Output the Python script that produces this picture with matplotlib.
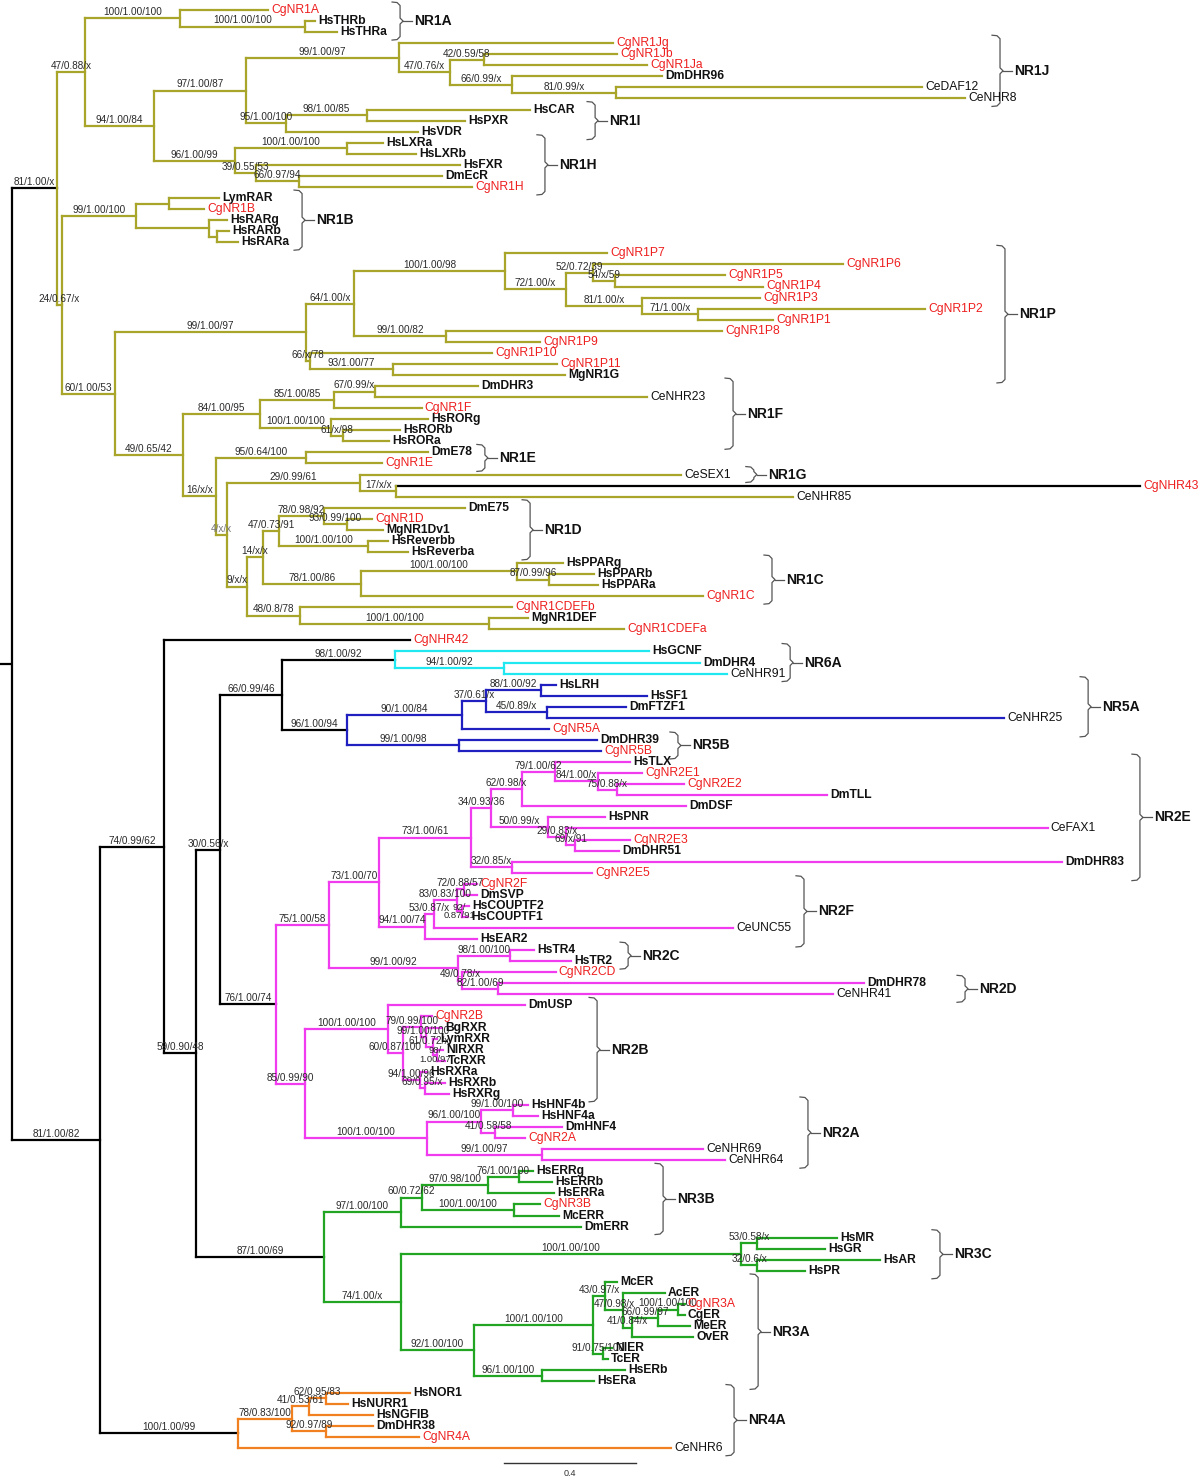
import matplotlib
matplotlib.use("Agg")
import matplotlib.pyplot as plt
from collections import defaultdict

plt.rcParams["font.family"] = ["Liberation Sans", "DejaVu Sans"]

# ---------------- DATA ----------------
# leaves in top-to-bottom order
leaf_order = [
    "CgNR1A", "HsTHRb", "HsTHRa", "CgNR1Jg", "CgNR1Jb", "CgNR1Ja", "DmDHR96", "CeDAF12", "CeNHR8",
    "HsCAR", "HsPXR", "HsVDR", "HsLXRa", "HsLXRb", "HsFXR", "DmEcR", "CgNR1H",
    "LymRAR", "CgNR1B", "HsRARg", "HsRARb", "HsRARa",
    "CgNR1P7", "CgNR1P6", "CgNR1P5", "CgNR1P4", "CgNR1P3", "CgNR1P2", "CgNR1P1", "CgNR1P8",
    "CgNR1P9", "CgNR1P10", "CgNR1P11", "MgNR1G",
    "DmDHR3", "CeNHR23", "CgNR1F", "HsRORg", "HsRORb", "HsRORa", "DmE78", "CgNR1E",
    "CeSEX1", "CgNHR43", "CeNHR85", "DmE75", "CgNR1D", "MgNR1Dv1", "HsReverbb", "HsReverba",
    "HsPPARg", "HsPPARb", "HsPPARa", "CgNR1C", "CgNR1CDEFb", "MgNR1DEF", "CgNR1CDEFa",
    "CgNHR42", "HsGCNF", "DmDHR4", "CeNHR91", "HsLRH", "HsSF1", "DmFTZF1", "CeNHR25",
    "CgNR5A", "DmDHR39", "CgNR5B",
    "HsTLX", "CgNR2E1", "CgNR2E2", "DmTLL", "DmDSF", "HsPNR", "CeFAX1", "CgNR2E3", "DmDHR51",
    "DmDHR83", "CgNR2E5", "CgNR2F", "DmSVP", "HsCOUPTF2", "HsCOUPTF1", "CeUNC55", "HsEAR2",
    "HsTR4", "HsTR2", "CgNR2CD", "DmDHR78", "CeNHR41",
    "DmUSP", "CgNR2B", "BgRXR", "LymRXR", "NlRXR", "TcRXR", "HsRXRa", "HsRXRb", "HsRXRg",
    "HsHNF4b", "HsHNF4a", "DmHNF4", "CgNR2A", "CeNHR69", "CeNHR64",
    "HsERRg", "HsERRb", "HsERRa", "CgNR3B", "McERR", "DmERR",
    "HsMR", "HsGR", "HsAR", "HsPR",
    "McER", "AcER", "CgNR3A", "CgER", "MeER", "OvER", "NlER", "TcER", "HsERb", "HsERa",
    "HsNOR1", "HsNURR1", "HsNGFIB", "DmDHR38", "CgNR4A", "CeNHR6",
]

# parent node of every leaf
leaf_parent = {
    "CgNR1A": "NR1A", "HsTHRb": "THR", "HsTHRa": "THR", "CgNR1Jg": "F", "CgNR1Jb": "H",
    "CgNR1Ja": "H", "DmDHR96": "I", "CeDAF12": "J", "CeNHR8": "J", "HsCAR": "L", "HsPXR": "L",
    "HsVDR": "K", "HsLXRa": "N", "HsLXRb": "N", "HsFXR": "O", "DmEcR": "P", "CgNR1H": "P",
    "LymRAR": "Q", "CgNR1B": "Q", "HsRARg": "Rr", "HsRARb": "S", "HsRARa": "S",
    "CgNR1P7": "W", "CgNR1P6": "Y", "CgNR1P5": "Z", "CgNR1P4": "Z", "CgNR1P3": "AA",
    "CgNR1P2": "AB", "CgNR1P1": "AB", "CgNR1P8": "AC", "CgNR1P9": "AC", "CgNR1P10": "AD",
    "CgNR1P11": "AE", "MgNR1G": "AE", "DmDHR3": "AJ", "CeNHR23": "AJ", "CgNR1F": "AI",
    "HsRORg": "AK", "HsRORb": "AL", "HsRORa": "AL", "DmE78": "NR1E", "CgNR1E": "NR1E",
    "CeSEX1": "AN", "CgNHR43": "AP", "CeNHR85": "AP", "DmE75": "AT", "CgNR1D": "AU",
    "MgNR1Dv1": "AU", "HsReverbb": "AV", "HsReverba": "AV", "HsPPARg": "AX", "HsPPARb": "AY",
    "HsPPARa": "AY", "CgNR1C": "AW", "CgNR1CDEFb": "AR", "MgNR1DEF": "AZ", "CgNR1CDEFa": "AZ",
    "CgNHR42": "BB", "HsGCNF": "BG", "DmDHR4": "BH", "CeNHR91": "BH", "HsLRH": "BL",
    "HsSF1": "BL", "DmFTZF1": "BM", "CeNHR25": "BM", "CgNR5A": "BJ", "DmDHR39": "BN",
    "CgNR5B": "BN", "HsTLX": "BU", "CgNR2E1": "BV", "CgNR2E2": "BW", "DmTLL": "BW",
    "DmDSF": "BT", "HsPNR": "BZ", "CeFAX1": "BY", "CgNR2E3": "CI", "DmDHR51": "CI",
    "DmDHR83": "CA", "CgNR2E5": "CA", "CgNR2F": "CE", "DmSVP": "CE", "HsCOUPTF2": "CF",
    "HsCOUPTF1": "CF", "CeUNC55": "CC", "HsEAR2": "CB", "HsTR4": "CH", "HsTR2": "CH",
    "CgNR2CD": "CJ", "DmDHR78": "CK", "CeNHR41": "CK", "DmUSP": "CL", "CgNR2B": "CO",
    "BgRXR": "CQ", "LymRXR": "CR", "NlRXR": "CS", "TcRXR": "CS", "HsRXRa": "CP",
    "HsRXRb": "CT", "HsRXRg": "CT", "HsHNF4b": "CW", "HsHNF4a": "CW", "DmHNF4": "CX",
    "CgNR2A": "CX", "CeNHR69": "CV", "CeNHR64": "CV", "HsERRg": "DE", "HsERRb": "DE",
    "HsERRa": "DC", "CgNR3B": "DD", "McERR": "DD", "DmERR": "CZ", "HsMR": "DH", "HsGR": "DH",
    "HsAR": "DI", "HsPR": "DI", "McER": "DL", "AcER": "DN", "CgNR3A": "DR", "CgER": "DR",
    "MeER": "DQ", "OvER": "DP", "NlER": "DM", "TcER": "DM", "HsERb": "DK", "HsERa": "DK",
    "HsNOR1": "DW", "HsNURR1": "DW", "HsNGFIB": "DU", "DmDHR38": "DV", "CgNR4A": "DV",
    "CeNHR6": "DS",
}

# distance of each leaf from the root (substitutions / site)
leaf_depth = {
    "CgNR1A": 0.776, "HsTHRb": 0.918, "HsTHRa": 0.985, "CgNR1Jg": 1.821, "CgNR1Jb": 1.833,
    "CgNR1Ja": 1.924, "DmDHR96": 1.970, "CeDAF12": 2.758, "CeNHR8": 2.888, "HsCAR": 1.570,
    "HsPXR": 1.373, "HsVDR": 1.230, "HsLXRa": 1.124, "HsLXRb": 1.224, "HsFXR": 1.358,
    "DmEcR": 1.303, "CgNR1H": 1.394, "LymRAR": 0.627, "CgNR1B": 0.582, "HsRARg": 0.652,
    "HsRARb": 0.658, "HsRARa": 0.685, "CgNR1P7": 1.803, "CgNR1P6": 2.518, "CgNR1P5": 2.161,
    "CgNR1P4": 2.276, "CgNR1P3": 2.267, "CgNR1P2": 2.767, "CgNR1P1": 2.306, "CgNR1P8": 2.152,
    "CgNR1P9": 1.600, "CgNR1P10": 1.455, "CgNR1P11": 1.652, "MgNR1G": 1.676, "DmDHR3": 1.412,
    "CeNHR23": 1.924, "CgNR1F": 1.242, "HsRORg": 1.261, "HsRORb": 1.176, "HsRORa": 1.142,
    "DmE78": 1.261, "CgNR1E": 1.121, "CeSEX1": 2.027, "CgNHR43": 3.418, "CeNHR85": 2.367,
    "DmE75": 1.373, "CgNR1D": 1.091, "MgNR1Dv1": 1.124, "HsReverbb": 1.139, "HsReverba": 1.200,
    "HsPPARg": 1.670, "HsPPARb": 1.764, "HsPPARa": 1.776, "CgNR1C": 2.094, "CgNR1CDEFb": 1.515,
    "MgNR1DEF": 1.564, "CgNR1CDEFa": 1.855, "CgNHR42": 1.206, "HsGCNF": 1.930, "DmDHR4": 2.085,
    "CeNHR91": 2.167, "HsLRH": 1.648, "HsSF1": 1.924, "DmFTZF1": 1.861, "CeNHR25": 3.006,
    "CgNR5A": 1.627, "DmDHR39": 1.773, "CgNR5B": 1.785, "HsTLX": 1.873, "CgNR2E1": 1.909,
    "CgNR2E2": 2.036, "DmTLL": 2.470, "DmDSF": 2.042, "HsPNR": 1.797, "CeFAX1": 3.139,
    "CgNR2E3": 1.873, "DmDHR51": 1.839, "DmDHR83": 3.182, "CgNR2E5": 1.758, "CgNR2F": 1.409,
    "DmSVP": 1.409, "HsCOUPTF2": 1.385, "HsCOUPTF1": 1.382, "CeUNC55": 2.185, "HsEAR2": 1.409,
    "HsTR4": 1.582, "HsTR2": 1.694, "CgNR2CD": 1.648, "DmDHR78": 2.582, "CeNHR41": 2.488,
    "DmUSP": 1.555, "CgNR2B": 1.273, "BgRXR": 1.303, "LymRXR": 1.288, "NlRXR": 1.306,
    "TcRXR": 1.312, "HsRXRa": 1.258, "HsRXRb": 1.312, "HsRXRg": 1.324, "HsHNF4b": 1.564,
    "HsHNF4a": 1.594, "DmHNF4": 1.667, "CgNR2A": 1.555, "CeNHR69": 2.094, "CeNHR64": 2.161,
    "HsERRg": 1.579, "HsERRb": 1.636, "HsERRa": 1.642, "CgNR3B": 1.600, "McERR": 1.658,
    "DmERR": 1.724, "HsMR": 2.500, "HsGR": 2.464, "HsAR": 2.630, "HsPR": 2.403, "McER": 1.833,
    "AcER": 1.979, "CgNR3A": 2.039, "CgER": 2.039, "MeER": 2.055, "OvER": 2.064, "NlER": 1.818,
    "TcER": 1.806, "HsERb": 1.858, "HsERa": 1.764, "HsNOR1": 1.206, "HsNURR1": 1.018,
    "HsNGFIB": 1.094, "DmDHR38": 1.094, "CgNR4A": 1.233, "CeNHR6": 1.997,
}

# oyster (Crassostrea gigas) genes from this study, labelled in red
red_leaves = [
    "CgNR1A", "CgNR1Jg", "CgNR1Jb", "CgNR1Ja", "CgNR1H", "CgNR1B", "CgNR1P7", "CgNR1P6",
    "CgNR1P5", "CgNR1P4", "CgNR1P3", "CgNR1P2", "CgNR1P1", "CgNR1P8", "CgNR1P9", "CgNR1P10",
    "CgNR1P11", "CgNR1F", "CgNR1E", "CgNHR43", "CgNR1D", "CgNR1C", "CgNR1CDEFb", "CgNR1CDEFa",
    "CgNHR42", "CgNR5A", "CgNR5B", "CgNR2E1", "CgNR2E2", "CgNR2E3", "CgNR2E5", "CgNR2F",
    "CgNR2CD", "CgNR2B", "CgNR2A", "CgNR3B", "CgNR3A", "CgNR4A",
]

# internal nodes: parent, depth from root, support (ML bootstrap / posterior / NJ)
node_parent = {
    "A": "R", "B": "A", "NR1A": "B", "THR": "NR1A", "D": "B", "E": "D", "F": "E", "G": "F",
    "H": "G", "I": "G", "J": "I", "K": "E", "L": "K", "M": "D", "N": "M", "O": "M", "P": "O",
    "C": "A", "NR1B": "C", "Q": "NR1B", "Rr": "NR1B", "S": "Rr",
    "T": "C", "U": "T", "V": "U", "W": "V", "X": "W", "Y": "X", "Z": "Y", "AA": "X", "AB": "AA",
    "AC": "V", "AD": "U", "AE": "AD",
    "AF": "T", "AG": "AF", "AI": "AG", "AJ": "AI", "AK": "AG", "AL": "AK", "AH": "AF",
    "NR1E": "AH", "AM": "AH", "AN": "AM", "AP": "AN", "AO": "AM", "AQ": "AO", "AS": "AQ",
    "AT": "AS", "AU": "AT", "AV": "AS", "AW": "AQ", "AX": "AW", "AY": "AX", "AR": "AO", "AZ": "AR",
    "BA": "R", "BB": "BA", "BD": "BB", "BC": "BD", "BE": "BC", "BG": "BE", "BH": "BG",
    "BI": "BE", "BJ": "BI", "BK": "BJ", "BL": "BK", "BM": "BK", "BN": "BI",
    "BF": "BC", "BP": "BF", "BQ": "BP", "BR": "BQ", "BS": "BR", "BT": "BS", "BU": "BT",
    "BV": "BU", "BW": "BV", "BZ": "BS", "BY": "BZ", "CI": "BY", "CA": "BR",
    "CB": "BQ", "CC": "CB", "CD": "CC", "CE": "CD", "CF": "CD", "CG": "BP", "CH": "CG",
    "CJ": "CG", "CK": "CJ",
    "BO": "BF", "CL": "BO", "CN": "CL", "CO": "CN", "CQ": "CO", "CR": "CQ", "CS": "CR",
    "CP": "CN", "CT": "CP", "CM": "BO", "CU": "CM", "CW": "CU", "CX": "CU", "CV": "CM",
    "CY": "BD", "CZ": "CY", "DB": "CZ", "DC": "DB", "DE": "DC", "DD": "DB", "DA": "CY",
    "DF": "DA", "DH": "DF", "DI": "DF", "DG": "DA", "DJ": "DG", "DL": "DJ", "DN": "DL",
    "DP": "DN", "DQ": "DP", "DR": "DQ", "DM": "DJ", "DK": "DG",
    "DS": "BA", "DT": "DS", "DU": "DT", "DW": "DU", "DV": "DT",
}

node_depth = {
    "R": 0.0, "A": 0.136, "B": 0.221, "NR1A": 0.509, "THR": 0.888, "D": 0.430, "E": 0.709,
    "F": 1.173, "G": 1.327, "H": 1.430, "I": 1.515, "J": 1.830, "K": 0.830, "L": 1.076,
    "M": 0.676, "N": 1.015, "O": 0.739, "P": 0.870, "C": 0.152, "NR1B": 0.376, "Q": 0.476,
    "Rr": 0.597, "S": 0.621, "T": 0.312, "U": 0.891, "V": 1.036, "W": 1.494, "X": 1.679,
    "Y": 1.761, "Z": 1.827, "AA": 1.909, "AB": 2.079, "AC": 1.315, "AD": 0.903, "AE": 1.155,
    "AF": 0.518, "AG": 0.752, "AI": 0.976, "AJ": 1.100, "AK": 0.967, "AL": 1.003, "AH": 0.618,
    "NR1E": 0.891, "AM": 0.652, "AN": 1.055, "AP": 1.164, "AO": 0.712, "AQ": 0.761,
    "AS": 0.809, "AT": 0.945, "AU": 1.015, "AV": 1.079, "AW": 1.058, "AX": 1.530, "AY": 1.627,
    "AR": 0.873, "AZ": 1.445,
    "BA": 0.267, "BB": 0.461, "BD": 0.558, "BC": 0.630, "BE": 0.818, "BG": 1.161, "BH": 1.491,
    "BI": 1.015, "BJ": 1.364, "BK": 1.436, "BL": 1.603, "BM": 1.621, "BN": 1.355,
    "BF": 0.800, "BP": 0.961, "BQ": 1.112, "BR": 1.391, "BS": 1.452, "BT": 1.545, "BU": 1.645,
    "BV": 1.776, "BW": 1.833, "BZ": 1.624, "BY": 1.679, "CI": 1.706, "CA": 1.515,
    "CB": 1.252, "CC": 1.279, "CD": 1.348, "CE": 1.370, "CF": 1.364, "CG": 1.352, "CH": 1.509,
    "CJ": 1.364, "CK": 1.473,
    "BO": 0.888, "CL": 1.139, "CN": 1.185, "CO": 1.239, "CQ": 1.255, "CR": 1.276, "CS": 1.288,
    "CP": 1.236, "CT": 1.252, "CM": 1.258, "CU": 1.421, "CW": 1.518, "CX": 1.464, "CV": 1.606,
    "CY": 0.945, "CZ": 1.179, "DB": 1.242, "DC": 1.442, "DE": 1.536, "DD": 1.521, "DA": 1.179,
    "DF": 2.209, "DH": 2.258, "DI": 2.258, "DG": 1.400, "DJ": 1.761, "DL": 1.797, "DN": 1.852,
    "DP": 1.879, "DQ": 1.958, "DR": 2.018, "DM": 1.791, "DK": 1.606,
    "DS": 0.685, "DT": 0.848, "DU": 0.900, "DW": 0.952, "DV": 0.952,
}

node_support = {
    "A": "81/1.00/x", "B": "47/0.88/x", "NR1A": "100/1.00/100", "THR": "100/1.00/100",
    "D": "94/1.00/84", "E": "97/1.00/87", "F": "99/1.00/97", "G": "47/0.76/x",
    "H": "42/0.59/58", "I": "66/0.99/x", "J": "81/0.99/x", "K": "95/1.00/100",
    "L": "98/1.00/85", "M": "96/1.00/99", "N": "100/1.00/100", "O": "39/0.55/53",
    "P": "66/0.97/94", "C": "24/0.67/x", "NR1B": "99/1.00/100", "T": "60/1.00/53",
    "U": "99/1.00/97", "V": "64/1.00/x", "W": "100/1.00/98", "X": "72/1.00/x",
    "Y": "52/0.72/39", "Z": "54/x/59", "AA": "81/1.00/x", "AB": "71/1.00/x",
    "AC": "99/1.00/82", "AD": "66/x/78", "AE": "93/1.00/77", "AF": "49/0.65/42",
    "AG": "84/1.00/95", "AI": "85/1.00/85", "AJ": "67/0.99/x", "AK": "100/1.00/100",
    "AL": "61/x/98", "AH": "16/x/x", "NR1E": "95/0.64/100", "AM": "4/x/x",
    "AN": "29/0.99/61", "AP": "17/x/x", "AO": "9/x/x", "AQ": "14/x/x", "AS": "47/0.73/91",
    "AT": "78/0.98/92", "AU": "93/0.99/100", "AV": "100/1.00/100", "AW": "78/1.00/86",
    "AX": "100/1.00/100", "AY": "87/0.99/96", "AR": "48/0.8/78", "AZ": "100/1.00/100",
    "BA": "81/1.00/82", "BB": "74/0.99/62", "BD": "59/0.90/48", "BC": "30/0.56/x",
    "BE": "66/0.99/46", "BG": "98/1.00/92", "BH": "94/1.00/92", "BI": "96/1.00/94",
    "BJ": "90/1.00/84", "BK": "37/0.61/x", "BL": "88/1.00/92", "BM": "45/0.89/x",
    "BN": "99/1.00/98", "BF": "76/1.00/74", "BP": "75/1.00/58", "BQ": "73/1.00/70",
    "BR": "73/1.00/61", "BS": "34/0.93/36", "BT": "62/0.98/x", "BU": "79/1.00/62",
    "BV": "84/1.00/x", "BW": "75/0.88/x", "BZ": "50/0.99/x", "BY": "29/0.83/x",
    "CI": "69/x/91", "CA": "32/0.85/x", "CB": "94/1.00/74", "CC": "53/0.87/x",
    "CD": "83/0.83/100", "CE": "72/0.88/57", "CF": "92/\n0.87/91", "CG": "99/1.00/92",
    "CH": "98/1.00/100", "CJ": "49/0.78/x", "CK": "82/1.00/69", "BO": "85/0.99/90",
    "CL": "100/1.00/100", "CN": "60/0.87/100", "CO": "79/0.99/100", "CQ": "99/1.00/100",
    "CR": "61/0.72/x", "CS": "98/\n1.00/97", "CP": "94/1.00/96", "CT": "69/0.95/x",
    "CM": "100/1.00/100", "CU": "96/1.00/100", "CW": "99/1.00/100", "CX": "41/0.58/58",
    "CV": "99/1.00/97", "CY": "87/1.00/69", "CZ": "97/1.00/100", "DB": "60/0.72/62",
    "DC": "97/0.98/100", "DE": "76/1.00/100", "DD": "100/1.00/100", "DA": "74/1.00/x",
    "DF": "100/1.00/100", "DH": "53/0.58/x", "DI": "32/0.6/x", "DG": "92/1.00/100",
    "DJ": "100/1.00/100", "DL": "43/0.97/x", "DN": "47/0.98/x", "DP": "41/0.84/x",
    "DQ": "66/0.99/97", "DR": "100/1.00/100", "DM": "91/0.75/100", "DK": "96/1.00/100",
    "DS": "100/1.00/99", "DT": "78/0.83/100", "DU": "41/0.53/61", "DW": "62/0.95/83",
    "DV": "92/0.97/89",
}

# subfamily brackets: name, first leaf, last leaf
clade_names = ["NR1A", "NR1J", "NR1I", "NR1H", "NR1B", "NR1P", "NR1F", "NR1E", "NR1G", "NR1D",
               "NR1C", "NR6A", "NR5A", "NR5B", "NR2E", "NR2F", "NR2C", "NR2D", "NR2B", "NR2A",
               "NR3B", "NR3C", "NR3A", "NR4A"]
clade_first = ["CgNR1A", "CgNR1Jg", "HsCAR", "HsLXRa", "LymRAR", "CgNR1P7", "DmDHR3", "DmE78",
               "CeSEX1", "DmE75", "HsPPARg", "HsGCNF", "HsLRH", "DmDHR39", "HsTLX", "CgNR2F",
               "HsTR4", "DmDHR78", "DmUSP", "HsHNF4b", "HsERRg", "HsMR", "McER", "HsNOR1"]
clade_last = ["HsTHRa", "CeNHR8", "HsVDR", "CgNR1H", "HsRARa", "MgNR1G", "HsRORa", "CgNR1E",
              "CeSEX1", "HsReverba", "CgNR1C", "CeNHR91", "CgNR5A", "CgNR5B", "CgNR2E5", "HsEAR2",
              "HsTR2", "CeNHR41", "HsRXRg", "CeNHR64", "DmERR", "HsPR", "HsERa", "CeNHR6"]

scale_bar_value = 0.4

# ---------------- STYLE / LAYOUT ----------------
OLIVE = "#a8a52a"
CYAN = "#1fe8f0"
BLUE = "#2020c0"
MAGENTA = "#f03cee"
GREEN = "#22a522"
ORANGE = "#f08020"
RED = "#ee1f1f"
clade_colour = {"A": OLIVE, "BG": CYAN, "BI": BLUE, "BF": MAGENTA, "CY": GREEN, "DS": ORANGE}
branch_colour_override = {"CgNHR43": "black"}
faint_support = ["AM"]

# x position of each bracket (same units as the tree axis)
bracket_x = {"NR1A": 1.176, "NR1J": 2.994, "NR1I": 1.767, "NR1H": 1.615, "NR1B": 0.879,
             "NR1P": 3.009, "NR1F": 2.185, "NR1E": 1.433, "NR1G": 2.248, "NR1D": 1.570,
             "NR1C": 2.303, "NR6A": 2.358, "NR5A": 3.261, "NR5B": 2.018, "NR2E": 3.418,
             "NR2F": 2.400, "NR2C": 1.867, "NR2D": 2.888, "NR2B": 1.773, "NR2A": 2.412,
             "NR3B": 1.973, "NR3C": 2.812, "NR3A": 2.261, "NR4A": 2.188}

W, H = 1200, 1477
PX = 1.0 / 330.0      # tree units per pixel
ROW = 11.06           # pixels per leaf row
fig = plt.figure(figsize=(W / 100, H / 100), dpi=100)
ax = fig.add_axes([0, 0, 1, 1])
ax.set_xlim(-12 * PX, (W - 12) * PX)
ax.set_ylim((H - 10) / ROW, -10 / ROW)
ax.axis("off")

# ---------------- TREE GEOMETRY ----------------
parent = dict(node_parent)
parent.update(leaf_parent)
depth = dict(node_depth)
depth.update(leaf_depth)
children = defaultdict(list)
for k, p in parent.items():
    children[p].append(k)
leaf_row = {n: i for i, n in enumerate(leaf_order)}
ypos = {}


def get_y(n):
    if n in ypos:
        return ypos[n]
    if n in leaf_row:
        ypos[n] = float(leaf_row[n])
    else:
        ys = [get_y(c) for c in children[n]]
        ypos[n] = (min(ys) + max(ys)) / 2.0
    return ypos[n]


get_y("R")


def colour_of(n):
    while n is not None:
        if n in clade_colour:
            return clade_colour[n]
        n = parent.get(n)
    return "black"


LW = 1.6
# root stub
ax.plot([-12 * PX, 0], [ypos["R"], ypos["R"]], color="black", lw=LW, solid_capstyle="butt")
for n, p in parent.items():
    c = branch_colour_override.get(n, colour_of(p))
    ax.plot([depth[p], depth[n]], [ypos[n], ypos[n]], color=c, lw=LW,
            solid_capstyle="projecting", zorder=2)
for n in list(node_depth.keys()):
    ys = [ypos[c] for c in children[n]]
    ax.plot([depth[n], depth[n]], [min(ys), max(ys)], color=colour_of(n), lw=LW,
            solid_capstyle="projecting", zorder=2)

# support values
SUP_FS = 7.2
for n, s in node_support.items():
    xm = (depth[parent[n]] + depth[n]) / 2.0
    col = "#777777" if n in faint_support else "#2a2a2a"
    if "\n" in s:
        ax.text(xm, ypos[n], s, fontsize=SUP_FS - 0.4, color=col, ha="center", va="center",
                linespacing=0.95, zorder=3)
    else:
        ax.annotate(s, (xm, ypos[n]), xytext=(0, 0.8), textcoords="offset points",
                    fontsize=SUP_FS, color=col, ha="center", va="bottom", zorder=3)

# leaf labels
for n in leaf_order:
    red = n in red_leaves
    weight = "normal" if (red or n.startswith("Ce")) else "bold"
    ax.text(leaf_depth[n] + 3 * PX, ypos[n], n, fontsize=8.7, color=RED if red else "#111111",
            ha="left", va="center", fontweight=weight, zorder=3)

# brackets
for name, a, b in zip(clade_names, clade_first, clade_last):
    xb = bracket_x[name]
    y0 = leaf_row[a] - 0.72
    y1 = leaf_row[b] + 0.72
    ym = (y0 + y1) / 2
    dy = 1.0 / ROW
    xs = [xb - 8 * PX, xb - 3 * PX, xb, xb, xb + 3 * PX, xb, xb, xb - 3 * PX, xb - 8 * PX]
    ys = [y0, y0 + 0.5 * dy, y0 + 3.5 * dy, ym - 3 * dy, ym, ym + 3 * dy, y1 - 3.5 * dy,
          y1 - 0.5 * dy, y1]
    ax.plot(xs, ys, color="#555555", lw=0.9, zorder=2)
    ax.plot([xb + 3 * PX, xb + 12 * PX], [ym, ym], color="#555555", lw=0.9, zorder=2)
    ax.text(xb + 14 * PX, ym, name, fontsize=10, fontweight="bold", ha="left", va="center",
            color="#111111")

# scale bar
sb_x0 = (504 - 12) * PX
sb_y = (1463 - 10) / ROW
ax.plot([sb_x0, sb_x0 + scale_bar_value], [sb_y, sb_y], color="#333333", lw=1.0)
ax.text(sb_x0 + scale_bar_value / 2, (1474 - 10) / ROW, f"{scale_bar_value}", fontsize=6.5,
        ha="center", va="center", color="#333333")

fig.savefig("out.png", dpi=100, facecolor="white")
